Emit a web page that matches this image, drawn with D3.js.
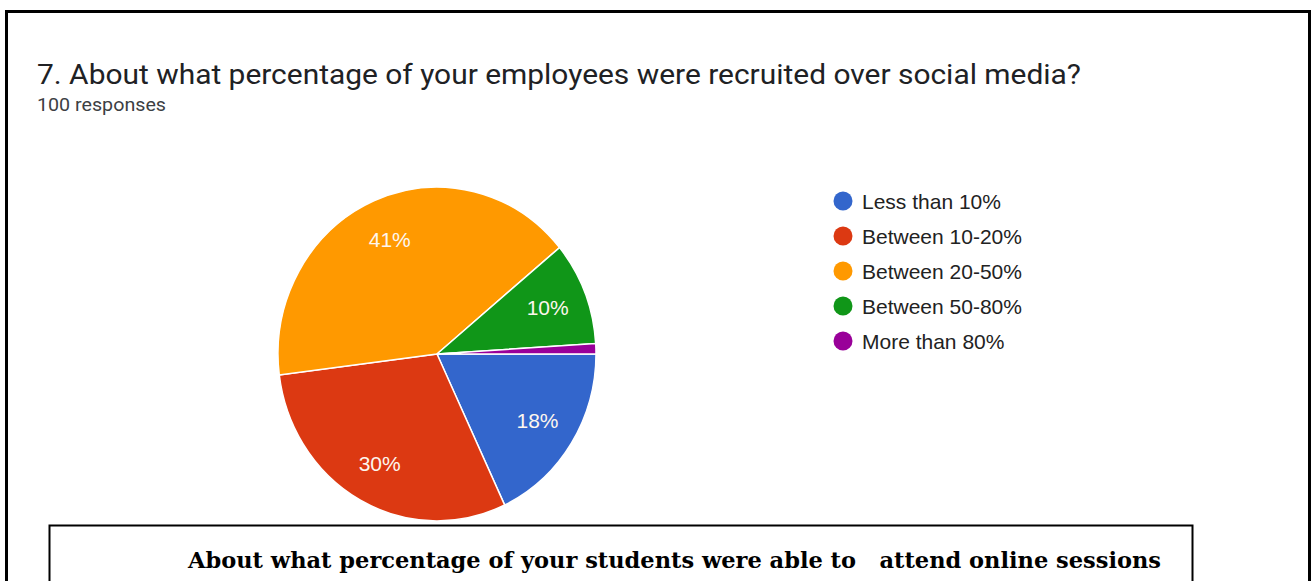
<!DOCTYPE html>
<html>
<head>
<meta charset="utf-8">
<script src="https://cdn.jsdelivr.net/npm/d3@7"></script>
<style>
  body { margin: 0; background: #fff; }
  svg { display: block; }
</style>
</head>
<body>
<div id="chart"></div>
<script>
// answer categories and their share of the 100 responses
var categories = ["Less than 10%", "Between 10-20%", "Between 20-50%", "Between 50-80%", "More than 80%"];
var shares = [18, 30, 41, 10, 1];
var sliceColors = ["#3366cc", "#dc3912", "#ff9900", "#109618", "#990099"];

var title = "7. About what percentage of your employees were recruited over social media?";
var subtitle = "100 responses";
var caption = "About what percentage of your students were able to   attend online sessions";

var width = 1315, height = 581;

var svg = d3.select("#chart")
  .append("svg")
  .attr("width", width)
  .attr("height", height);

// outer frame (runs off the bottom of the picture)
svg.append("rect")
  .attr("x", 6.5).attr("y", 11.5)
  .attr("width", 1303).attr("height", 620)
  .attr("fill", "none")
  .attr("stroke", "#000")
  .attr("stroke-width", 3);

svg.append("text")
  .attr("x", 37).attr("y", 84)
  .attr("font-family", "Roboto, sans-serif")
  .attr("font-size", 28)
  .attr("fill", "#202124")
  .attr("textLength", 1044)
  .attr("lengthAdjust", "spacingAndGlyphs")
  .text(title);

svg.append("text")
  .attr("x", 37).attr("y", 111)
  .attr("font-family", "Roboto, sans-serif")
  .attr("font-size", 18)
  .attr("fill", "#3c4043")
  .attr("textLength", 129)
  .attr("lengthAdjust", "spacingAndGlyphs")
  .text(subtitle);

// pie
var radius = 159, squash = 1.05;
var cx = 437, cy = 354;

var pie = d3.pie().sort(null).startAngle(Math.PI / 2).endAngle(Math.PI / 2 + 2 * Math.PI);
var arcs = pie(shares);
var arc = d3.arc().innerRadius(0).outerRadius(radius);
var labelArc = d3.arc().innerRadius(119).outerRadius(119);

var color = d3.scaleOrdinal().domain(categories).range(sliceColors);

var pieG = svg.append("g")
  .attr("transform", "translate(" + cx + "," + cy + ") scale(1," + squash + ")");

pieG.selectAll("path")
  .data(arcs)
  .enter()
  .append("path")
  .attr("d", arc)
  .attr("fill", (d, i) => color(categories[i]))
  .attr("stroke", "#fff")
  .attr("stroke-width", 1.5);

svg.append("g")
  .attr("transform", "translate(" + cx + "," + cy + ")")
  .selectAll("text")
  .data(arcs.filter(d => d.value >= 5))
  .enter()
  .append("text")
  .attr("x", d => labelArc.centroid(d)[0])
  .attr("y", d => labelArc.centroid(d)[1] * squash)
  .attr("dy", "0.35em")
  .attr("text-anchor", "middle")
  .attr("font-family", "'Liberation Sans', Arial, sans-serif")
  .attr("font-size", 21)
  .attr("fill", "#fdf6ee")
  .text(d => d.value + "%");

// legend
var legendY = d3.scalePoint().domain(categories).range([201, 341]);

var legend = svg.append("g")
  .selectAll("g")
  .data(categories)
  .enter()
  .append("g")
  .attr("transform", d => "translate(843," + legendY(d) + ")");

legend.append("circle")
  .attr("r", 9.5)
  .attr("fill", d => color(d));

legend.append("text")
  .attr("x", 19)
  .attr("dy", "0.36em")
  .attr("font-family", "'Liberation Sans', Arial, sans-serif")
  .attr("font-size", 21)
  .attr("fill", "#222")
  .text(d => d);

// caption box below the chart
svg.append("rect")
  .attr("x", 49.5).attr("y", 525.5)
  .attr("width", 1143).attr("height", 80)
  .attr("fill", "#fff")
  .attr("stroke", "#000")
  .attr("stroke-width", 2);

svg.append("text")
  .attr("x", 188).attr("y", 568)
  .attr("font-family", "'DejaVu Serif Condensed', 'Liberation Serif', serif")
  .attr("font-weight", "bold")
  .attr("font-size", 22)
  .attr("fill", "#000")
  .attr("textLength", 973)
  .attr("lengthAdjust", "spacingAndGlyphs")
  .style("white-space", "pre")
  .text(caption);
</script>
</body>
</html>
